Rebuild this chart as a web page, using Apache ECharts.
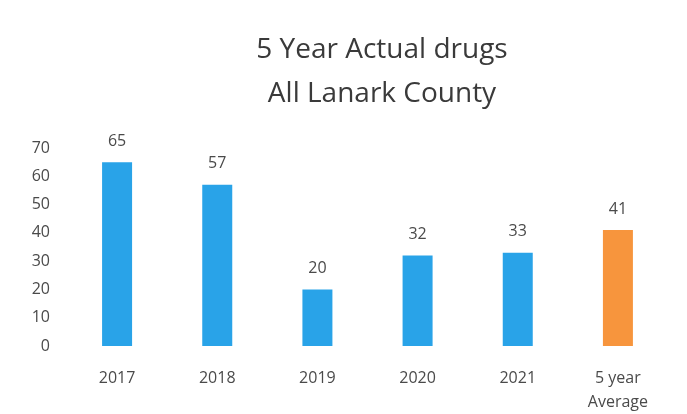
<!DOCTYPE html>
<html>
<head>
<meta charset="utf-8">
<script src="https://cdn.jsdelivr.net/npm/echarts@6/dist/echarts.min.js"></script>
<style>
  html, body { margin: 0; padding: 0; background: #ffffff; }
  #chart { width: 687px; height: 414px; }
</style>
</head>
<body>
<div id="chart"></div>
<script>
// Drug counts per year plus the five-year average
const categories = ['2017', '2018', '2019', '2020', '2021', '5 year\nAverage'];
const values = [65, 57, 20, 32, 33, 41];
const barColors = ['#29a3e8', '#29a3e8', '#29a3e8', '#29a3e8', '#29a3e8', '#f7953d'];
const yTicks = [0, 10, 20, 30, 40, 50, 60, 70];

const chart = echarts.init(document.getElementById('chart'));
const textColor = '#4a4a4a';
const fontFamily = '"Open Sans", sans-serif';

chart.setOption({
  backgroundColor: '#ffffff',
  animation: false,
  title: {
    text: '5 Year Actual drugs\nAll Lanark County',
    left: 377,
    top: 23,
    textAlign: 'center',
    textStyle: {
      color: '#3a3a3a',
      fontFamily: fontFamily,
      fontWeight: 'normal',
      fontSize: 28,
      lineHeight: 44
    }
  },
  grid: { left: 67, right: 19, top: 148, bottom: 67, containLabel: false },
  xAxis: {
    type: 'category',
    data: categories,
    axisLine: { show: false },
    axisTick: { show: false },
    axisLabel: {
      color: textColor,
      fontFamily: fontFamily,
      fontSize: 16,
      lineHeight: 24,
      margin: 20,
      verticalAlign: 'top'
    }
  },
  yAxis: {
    type: 'value',
    min: yTicks[0],
    max: yTicks[yTicks.length - 1],
    interval: 10,
    axisLine: { show: false },
    axisTick: { show: false },
    splitLine: { show: false },
    axisLabel: {
      color: textColor,
      fontFamily: fontFamily,
      fontSize: 16,
      margin: 17
    }
  },
  series: [{
    type: 'bar',
    barWidth: 30,
    data: values.map((v, i) => ({ value: v, itemStyle: { color: barColors[i] } })),
    label: {
      show: true,
      position: 'top',
      distance: 13,
      color: textColor,
      fontFamily: fontFamily,
      fontSize: 16
    }
  }]
});
</script>
</body>
</html>
